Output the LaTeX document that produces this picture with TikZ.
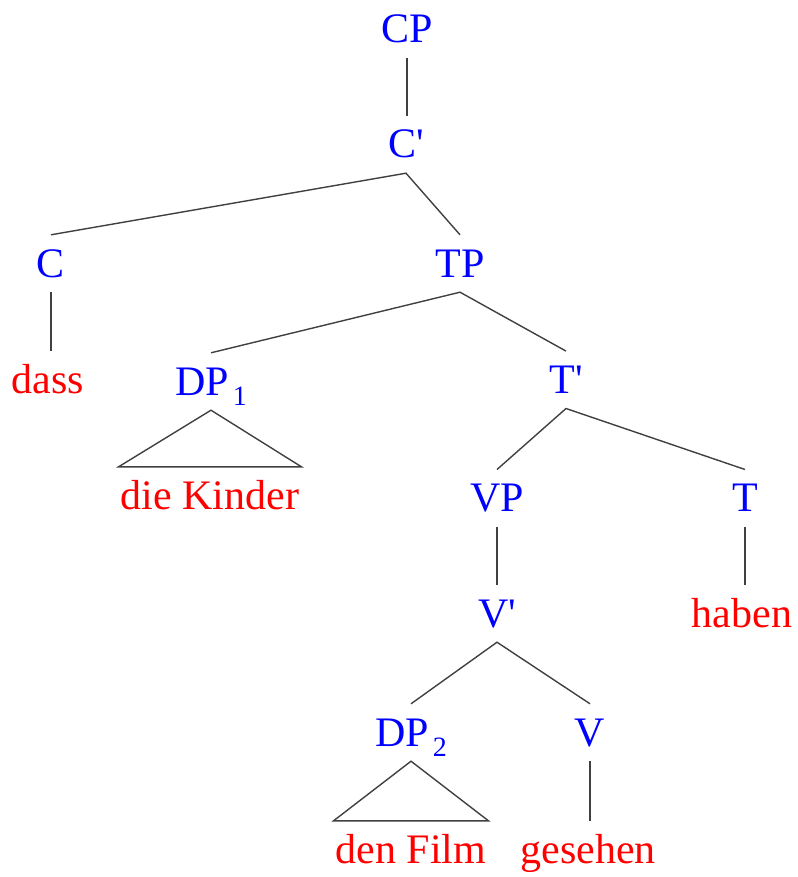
\documentclass[tikz,border=0pt]{standalone}
\usepackage{fontspec}
\setmainfont{Liberation Serif}
\definecolor{catblue}{RGB}{0,0,255}
\definecolor{wordred}{RGB}{255,0,0}
\definecolor{linegray}{RGB}{64,64,64}
\newcommand{\subidx}[1]{\hspace{4pt}\raisebox{-10pt}{\fontsize{28}{28}\selectfont #1}}
\begin{document}
\begin{tikzpicture}[x=1pt,y=-1pt,
  lab/.style={inner xsep=2pt, inner ysep=12pt, text height=30pt, text depth=3pt, anchor=base, font=\fontsize{42}{50}\selectfont},
  cat/.style={lab,text=catblue},
  word/.style={lab,text=wordred},
  branch/.style={draw=linegray, line width=1.4pt, line join=miter}]
\useasboundingbox (0,0) rectangle (797,877);
% nodes
\node[cat] (CP) at (407,42.7) {CP};
\node[cat] (Cbar) at (406,158) {C\textquotesingle};
\node[cat] (C) at (51,277) {C};
\node[cat] (TP) at (460,277) {TP};
\node[word] (dass) at (48,393) {dass};
\node[cat] (DPa) at (211,395) {DP\subidx{1}};
\node[word] (kinder) at (210,509) {die Kinder};
\node[cat] (Tbar) at (566,393.3) {T\textquotesingle};
\node[cat] (VP) at (497,511.7) {VP};
\node[cat] (T) at (745,511.7) {T};
\node[cat] (Vbar) at (497,627) {V\textquotesingle};
\node[word] (haben) at (742,627) {haben};
\node[cat] (DPb) at (411,746) {DP\subidx{2}};
\node[cat] (V) at (590,746) {V};
\node[word] (film) at (411,863) {den Film};
\node[word] (gesehen) at (588,863) {gesehen};
% branches
\draw[branch] (CP.south) -- (CP.south |- Cbar.north);
\draw[branch] (C.north) -- (Cbar.south) -- (TP.north);
\draw[branch] (C.south) -- (C.south |- dass.north);
\draw[branch] (DPa.north) -- (TP.south) -- (Tbar.north);
\draw[branch] (DPa.south) -- (kinder.north west) -- (kinder.north east) -- cycle;
\draw[branch] (VP.north) -- (Tbar.south) -- (T.north);
\draw[branch] (VP.south) -- (VP.south |- Vbar.north);
\draw[branch] (T.south) -- (T.south |- haben.north);
\draw[branch] (DPb.north) -- (Vbar.south) -- (V.north);
\draw[branch] (DPb.south) -- (film.north west) -- (film.north east) -- cycle;
\draw[branch] (V.south) -- (V.south |- gesehen.north);
\end{tikzpicture}
\end{document}
